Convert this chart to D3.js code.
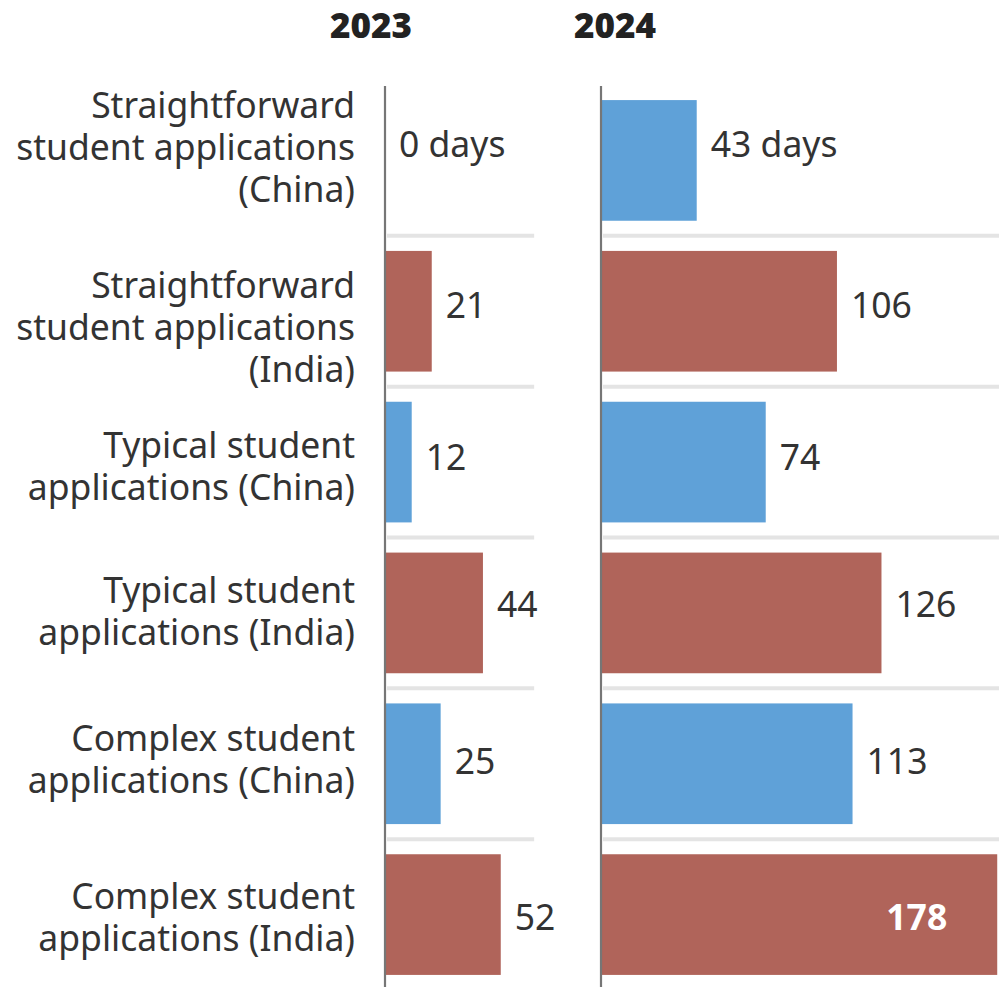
<!DOCTYPE html>
<html>
<head>
<meta charset="utf-8">
<script src="https://cdn.jsdelivr.net/npm/d3@7"></script>
<style>
  body { margin: 0; background: #fff; }
  text { font-family: "Noto Sans", "Open Sans", sans-serif; }
</style>
</head>
<body>
<svg id="chart" width="999" height="987"></svg>
<script>
// Processing times for UK student visa applications, in days
const categories = [
  "Straightforward|student applications|(China)",
  "Straightforward|student applications|(India)",
  "Typical student|applications (China)",
  "Typical student|applications (India)",
  "Complex student|applications (China)",
  "Complex student|applications (India)"
];
const origins = ["China", "India", "China", "India", "China", "India"];
const years = ["2023", "2024"];
const days2023 = [0, 21, 12, 44, 25, 52];
const days2024 = [43, 106, 74, 126, 113, 178];

const W = 999, H = 987;
const svg = d3.select("#chart");

const colour = d3.scaleOrdinal().domain(["China", "India"]).range(["#5fa1d8", "#b0645a"]);

const y = d3.scaleBand()
  .domain(categories)
  .range([85, 990])
  .paddingInner(0.2)
  .paddingOuter(0.1);
const mid = (c) => y(c) + y.bandwidth() / 2;

const pxPerDay = 2.226;
const panels = [
  { year: years[0], values: days2023, x0: 385, maxDays: 67, titleDx: -14 },
  { year: years[1], values: days2024, x0: 601, maxDays: 179, titleDx: 14 }
];

const labelSize = 35.5;
const lineGap = 42;
// baseline of each label's first line, relative to its row centre
const firstLineShift = [-42, -13, -4, -10, -13, -6];
// baseline of the value labels, relative to the row centre
const valueShift = [-3, 7, 8, 4, 10, 15];

// Category labels, right-aligned left of the first panel
const lab = svg.append("g").attr("fill", "#333");
categories.forEach((c, r) => {
  const lines = c.split("|");
  const first = mid(c) + firstLineShift[r];
  lines.forEach((ln, i) => {
    lab.append("text")
      .attr("x", 355)
      .attr("y", first + i * lineGap)
      .attr("text-anchor", "end")
      .style("font-size", labelSize + "px")
      .text(ln);
  });
});

panels.forEach((p) => {
  const x = d3.scaleLinear().domain([0, p.maxDays]).range([p.x0, p.x0 + p.maxDays * pxPerDay]);
  const g = svg.append("g");

  // Year heading
  g.append("text")
    .attr("x", p.x0 + p.titleDx)
    .attr("y", 37.5)
    .attr("text-anchor", "middle")
    .attr("fill", "#222")
    .style("font-size", "35px")
    .style("font-weight", 900)
    .text(p.year);

  // Row separators
  const step = y.step();
  categories.slice(0, -1).forEach((c) => {
    const sy = y(c) + y.bandwidth() + (step - y.bandwidth()) / 2;
    g.append("line")
      .attr("x1", p.x0 + 2).attr("x2", Math.min(x.range()[1], W))
      .attr("y1", sy).attr("y2", sy)
      .attr("stroke", "#e4e4e4").attr("stroke-width", 4);
  });

  // Bars
  g.selectAll("rect.bar").data(p.values).join("rect")
    .attr("class", "bar")
    .attr("x", x(0))
    .attr("y", (d, i) => y(categories[i]))
    .attr("width", (d) => x(d) - x(0))
    .attr("height", y.bandwidth())
    .attr("fill", (d, i) => colour(origins[i]));

  // Baseline axis
  g.append("line")
    .attr("x1", x(0)).attr("x2", x(0))
    .attr("y1", 86).attr("y2", H)
    .attr("stroke", "#767676").attr("stroke-width", 2.2);

  // Value labels; the first row carries the unit
  p.values.forEach((d, i) => {
    const txt = i === 0 ? d + " days" : String(d);
    const t = g.append("text")
      .attr("y", mid(categories[i]) + valueShift[i])
      .style("font-size", labelSize + "px")
      .text(txt);
    const w = t.node().getComputedTextLength();
    if (x(d) + 14 + w > W) {
      t.attr("x", x(d) - 50)
        .attr("text-anchor", "end")
        .attr("fill", "#fff")
        .style("font-weight", 700);
    } else {
      t.attr("x", x(d) + 14).attr("fill", "#333");
    }
  });
});
</script>
</body>
</html>
